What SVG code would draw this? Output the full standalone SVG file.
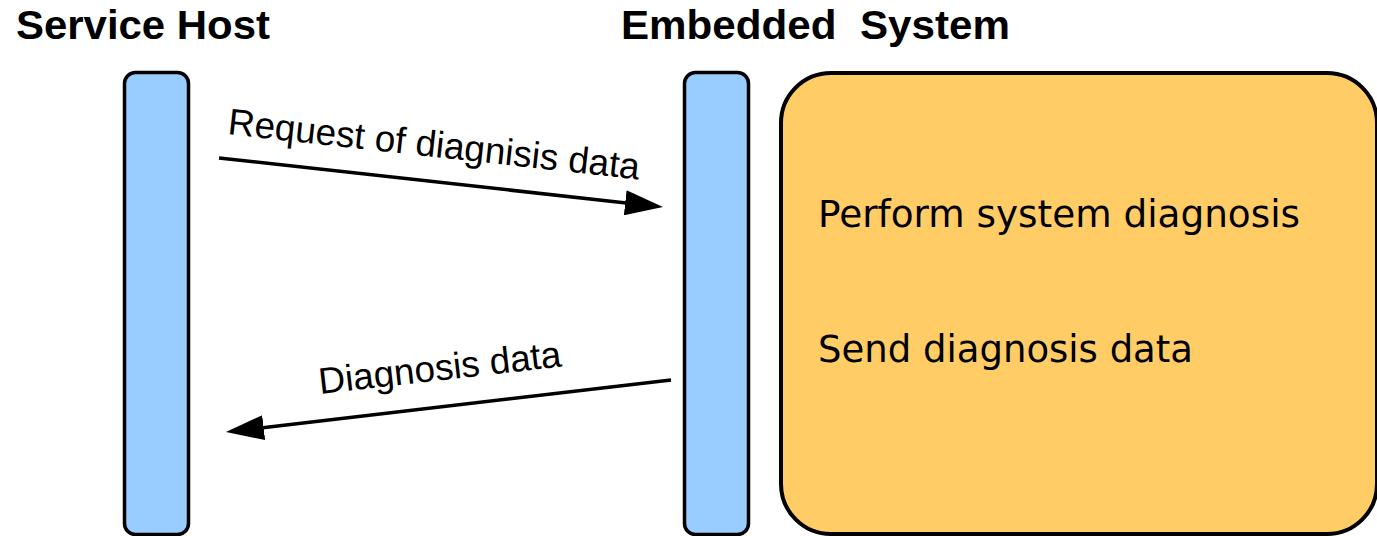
<svg xmlns="http://www.w3.org/2000/svg" width="1377" height="536" viewBox="0 0 1377 536">
  <defs>
    <style>
      .title { font-family: "Liberation Sans", Arial, sans-serif; font-weight: bold; font-size: 40px; fill: #000; }
      .msg { font-family: "Liberation Sans", Arial, sans-serif; font-size: 37px; fill: #000; }
      .step { font-family: "DejaVu Sans", Verdana, sans-serif; font-size: 37px; fill: #000; }
      .lifeline { fill: #99ccff; stroke: #000; stroke-width: 3.5; }
      .process { fill: #ffcc66; stroke: #000; stroke-width: 4; }
      .flow { fill: none; stroke: #000; stroke-width: 3.5; }
    </style>
    <marker id="head" viewBox="0 0 38 25" refX="1" refY="12.5" markerWidth="38" markerHeight="25" markerUnits="userSpaceOnUse" orient="auto">
      <path d="M0 0 L38 12.5 L0 25 z" fill="#000"/>
    </marker>
  </defs>

  <rect width="1377" height="536" fill="#ffffff"/>

  <!-- participant headings -->
  <g id="host">
    <text class="title" x="16" y="39" textLength="254" lengthAdjust="spacingAndGlyphs">Service Host</text>
    <rect class="lifeline" x="124.5" y="72.5" width="64" height="462" rx="11"/>
  </g>

  <g id="embedded">
    <text class="title" x="621" y="39" textLength="389" lengthAdjust="spacingAndGlyphs" xml:space="preserve">Embedded  System</text>
    <rect class="lifeline" x="684.5" y="72.5" width="64" height="462" rx="11"/>
  </g>

  <!-- activity performed by the embedded system -->
  <g id="activity">
    <rect class="process" x="781" y="73" width="596" height="461" rx="50"/>
    <text class="step" x="818" y="227" textLength="482" lengthAdjust="spacingAndGlyphs">Perform system diagnosis</text>
    <text class="step" x="818" y="362" textLength="375" lengthAdjust="spacingAndGlyphs">Send diagnosis data</text>
  </g>

  <!-- messages -->
  <g id="connectors">
    <line class="flow" x1="219" y1="158" x2="626.2" y2="202.9" marker-end="url(#head)"/>
    <text class="msg" transform="translate(227 134) rotate(6.3)" textLength="414" lengthAdjust="spacingAndGlyphs">Request of diagnisis data</text>

    <line class="flow" x1="671" y1="380" x2="262.7" y2="427.7" marker-end="url(#head)"/>
    <text class="msg" transform="translate(320 394) rotate(-6.5)" textLength="244" lengthAdjust="spacingAndGlyphs">Diagnosis data</text>
  </g>
</svg>
